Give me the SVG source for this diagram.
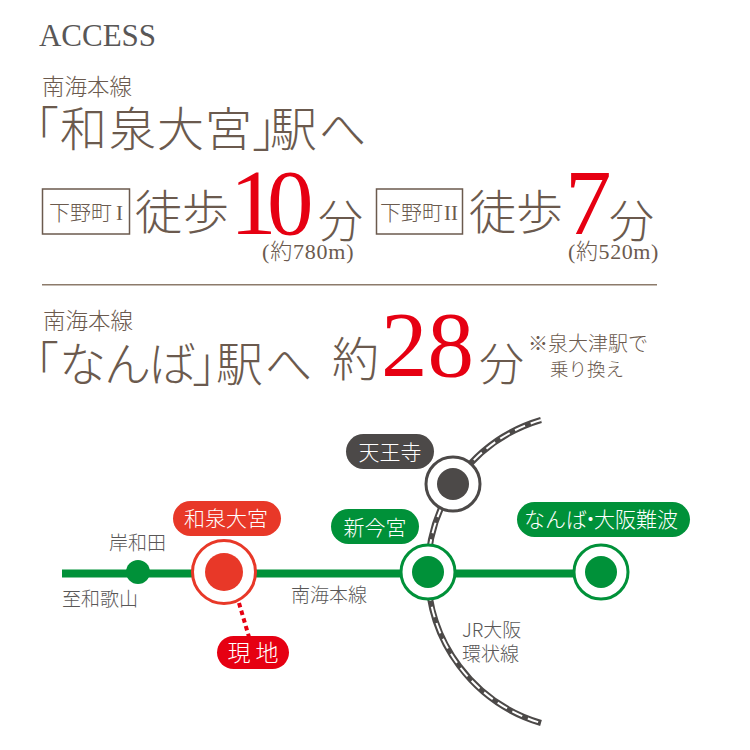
<svg xmlns="http://www.w3.org/2000/svg" width="750" height="750" viewBox="0 0 750 750">
<style>
text{font-family:"Liberation Serif","Noto Sans CJK JP",serif;fill:#6b5a4e}
.j{font-family:"Noto Sans CJK JP","Liberation Sans",sans-serif;font-weight:300}
.r{fill:#e60012}
.m{font-family:"Noto Sans CJK JP","Liberation Sans",sans-serif;font-size:19px;fill:#595757;font-weight:300}
.w{font-family:"Noto Sans CJK JP","Liberation Sans",sans-serif;font-size:21px;fill:#fff;font-weight:300;text-anchor:middle}
.box{fill:none;stroke:#6b5a4e;stroke-width:1.5}
</style>
<rect width="750" height="750" fill="#fff"/>
<g id="heading">
<text x="39" y="46" font-size="31" style="fill:#595757" textLength="117">ACCESS</text>
<text class="j" x="42" y="95" font-size="22.500">南海本線</text>
<text class="j" x="12 60 109 157 205 252 270 319" y="146" font-size="47">「和泉大宮」駅へ</text>
<rect class="box" x="42.500" y="189" width="87" height="45"/>
<text class="j" x="49" y="220" font-size="21">下野町</text>
<text x="116" y="220" font-size="21">I</text>
<text class="j" x="135" y="229" font-size="47">徒歩</text>
<text class="r" x="230 267" y="234" font-size="93">10</text>
<text class="j" x="318" y="238" font-size="45">分</text>
<text x="262" y="259" font-size="22" letter-spacing="0.800">(<tspan class="j">約</tspan>780m)</text>
<rect class="box" x="376.500" y="189" width="86" height="45"/>
<text class="j" x="380" y="220" font-size="21">下野町</text>
<text x="444" y="220" font-size="21">II</text>
<text class="j" x="469" y="229" font-size="47">徒歩</text>
<text class="r" x="565" y="234" font-size="93">7</text>
<text class="j" x="609" y="238" font-size="45">分</text>
<text x="568" y="259" font-size="22" letter-spacing="0.600">(<tspan class="j">約</tspan>520m)</text>
<rect x="42" y="284" width="615" height="1.500" fill="#8c7b6b"/>
<text class="j" x="43" y="329" font-size="22.500">南海本線</text>
<text class="j" x="12 59 104 149 192 216 265" y="381" font-size="47">「なんば」駅へ</text>
<text class="j" x="332" y="376" font-size="47">約</text>
<text class="r" x="381" y="376" font-size="93">28</text>
<text class="j" x="479" y="381" font-size="45">分</text>
<text class="j" x="528" y="351" font-size="20">※泉大津駅で</text>
<text class="j" x="550" y="376" font-size="18.500">乗り換え</text>
</g>
<g id="connectors" fill="none">
<path d="M541 420A158 158 0 0 0 541 723" stroke="#4c4948" stroke-width="6"/>
<path d="M541 420A158 158 0 0 0 541 723" stroke="#fff" stroke-width="2" stroke-dasharray="11 6"/>
<path d="M62 573.500H600" stroke="#009139" stroke-width="8"/>
<path d="M239 603L249 637" stroke="#e60012" stroke-width="4" stroke-dasharray="4.500 3.500"/>
</g>
<g id="kishiwada"><circle cx="138" cy="572" r="12" fill="#009139"/><text class="m" x="109" y="550">岸和田</text></g>
<g id="wakayama"><text class="m" x="62" y="606">至和歌山</text></g>
<g id="nankai-label"><text class="m" x="291" y="602">南海本線</text></g>
<g id="jr-label"><text class="m" x="462" y="637">JR大阪</text><text class="m" x="462" y="661">環状線</text></g>
<g id="izumiomiya">
<circle cx="224" cy="572" r="31.500" fill="#fff" stroke="#e83828" stroke-width="3"/>
<circle cx="224" cy="572" r="19" fill="#e83828"/>
<rect x="173" y="501" width="108" height="35" rx="17.500" fill="#e83828"/>
<text class="w" x="226" y="526">和泉大宮</text>
</g>
<g id="genchi">
<rect x="217" y="636" width="72" height="33" rx="16.500" fill="#e60012"/>
<text class="w" x="253" y="661" style="font-size:23px">現 地</text>
</g>
<g id="tennoji">
<circle cx="453" cy="484" r="27" fill="#fff" stroke="#4c4948" stroke-width="3"/>
<circle cx="453" cy="484" r="16" fill="#4c4948"/>
<rect x="346" y="434" width="88" height="35" rx="17.500" fill="#4c4948"/>
<text class="w" x="390" y="460">天王寺</text>
</g>
<g id="shinimamiya">
<circle cx="428" cy="572" r="27" fill="#fff" stroke="#009139" stroke-width="3"/>
<circle cx="428" cy="572" r="16" fill="#009139"/>
<rect x="331" y="509" width="88" height="35" rx="17.500" fill="#009139"/>
<text class="w" x="375" y="535">新今宮</text>
</g>
<g id="namba">
<circle cx="601" cy="572" r="27" fill="#fff" stroke="#009139" stroke-width="3"/>
<circle cx="601" cy="572" r="16" fill="#009139"/>
<rect x="517" y="502" width="173" height="35" rx="17.500" fill="#009139"/>
<text class="w" x="524 545 566 580 594 615 636 657" y="527" style="text-anchor:start">なんば・大阪難波</text>
</g>
</svg>
